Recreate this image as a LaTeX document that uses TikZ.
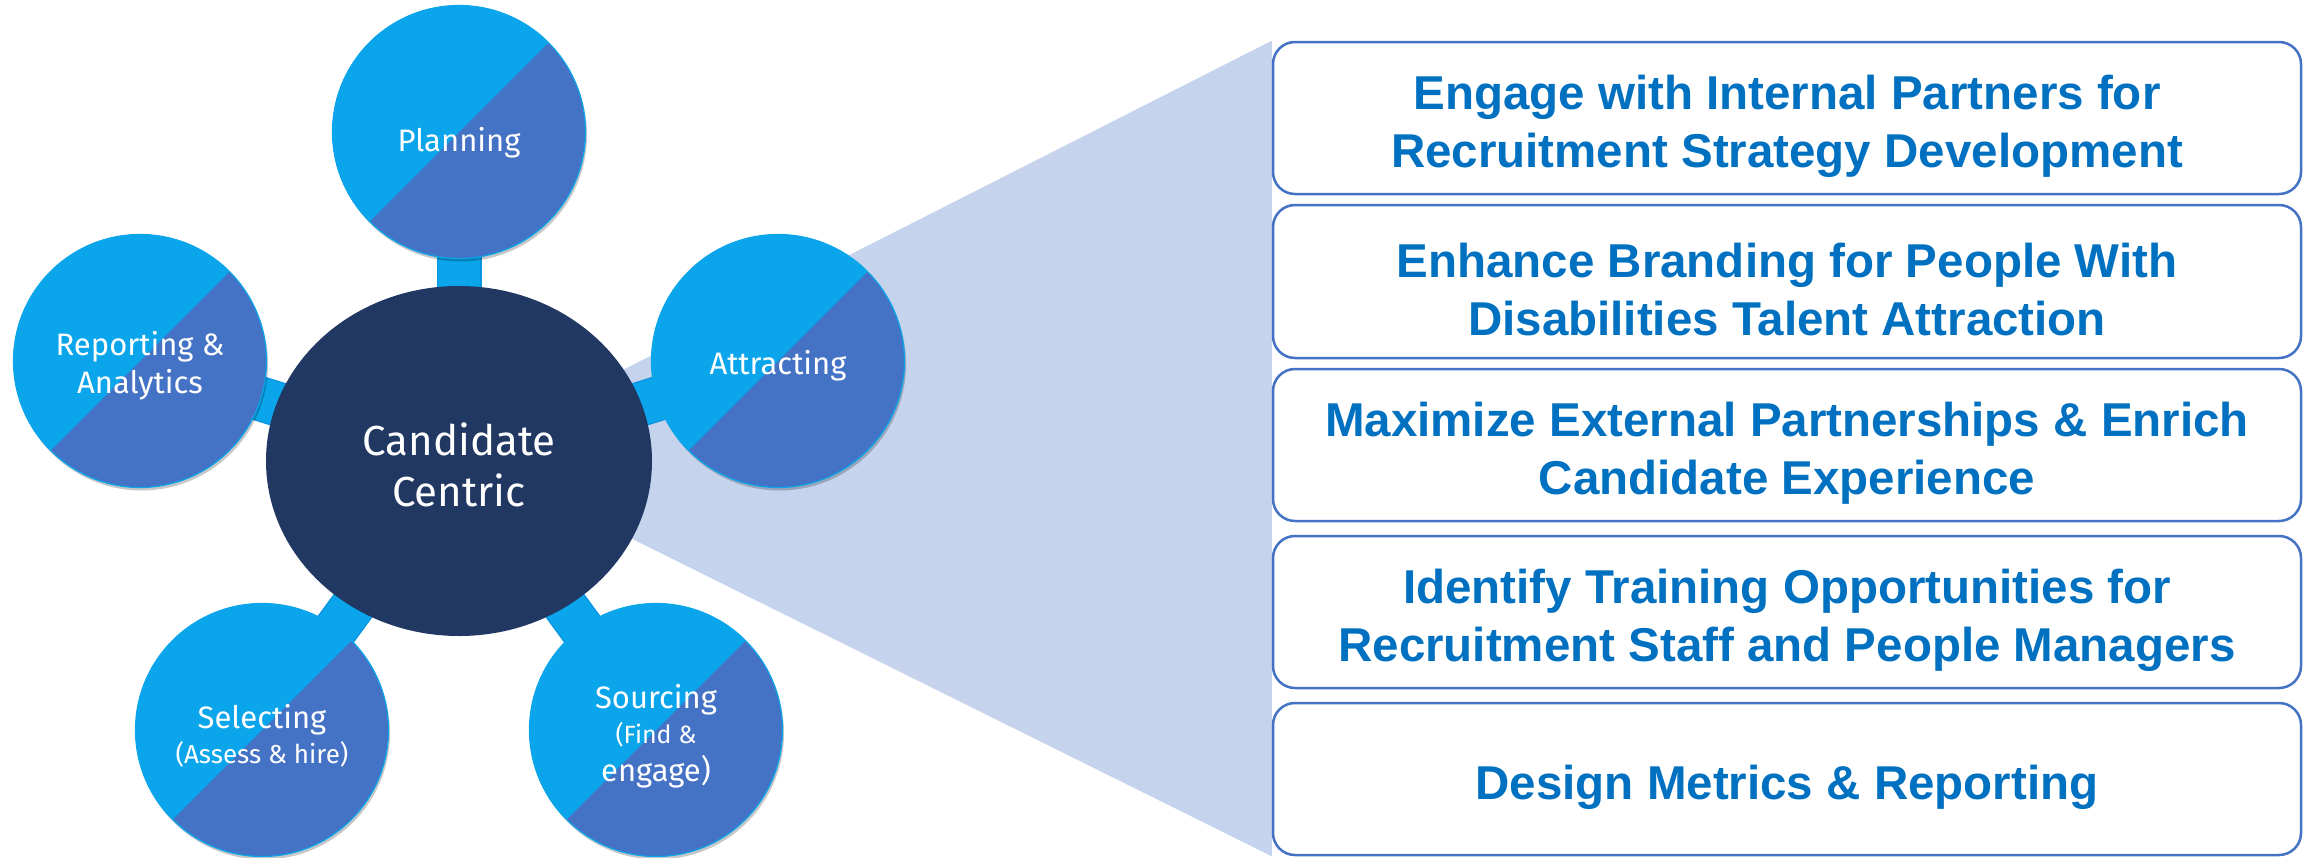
\documentclass[tikz,border=0pt]{standalone}
\usepackage{fontspec}
\setmainfont{Liberation Sans}
\newfontfamily\circlefont{Fira Sans}
\usetikzlibrary{shapes.geometric,shadows}

\definecolor{cyanfill}{HTML}{0AA5EB}
\definecolor{cyanedge}{HTML}{0A94E2}
\definecolor{bluefill}{HTML}{4472C4}
\definecolor{navy}{HTML}{213863}
\definecolor{wedge}{HTML}{C5D3EC}
\definecolor{boxline}{HTML}{4472C4}
\definecolor{boxtext}{HTML}{0070C0}

\pgfdeclarelayer{back}
\pgfdeclarelayer{links}
\pgfsetlayers{back,links,main}

% invisible strut that lowers a node's text block
\newcommand\lowerby[1]{\rule{0pt}{#1}}

\tikzset{
  stage/.style={circle, minimum size=253pt, inner sep=0pt,
    fill=bluefill, draw=cyanfill, line width=1.2pt,
    text=white, align=center,
    font=\circlefont\fontsize{31}{38}\selectfont,
    drop shadow={shadow xshift=1.5pt, shadow yshift=-3pt, opacity=0.22, fill=black},
    path picture={\fill[cyanfill] (path picture bounding box.north east)
      -- (path picture bounding box.south west)
      -- (path picture bounding box.north west) -- cycle;}},
  hub/.style={ellipse, minimum width=386pt, minimum height=350pt, inner sep=0pt,
    fill=navy, text=white, align=center,
    font=\circlefont\fontsize{42}{51}\selectfont},
  goal/.style={rectangle, rounded corners=22pt, draw=boxline, line width=2.5pt,
    fill=white, minimum width=1028pt, inner sep=0pt, text=boxtext, align=center,
    font=\bfseries\fontsize{47.5}{58}\selectfont},
  link/.style={line width=45pt, cyanedge},
  linkfill/.style={line width=42pt, cyanfill}
}

\begin{document}
\begin{tikzpicture}[x=1pt,y=-1pt]
\useasboundingbox (0,0) rectangle (2318,857);

% centre and the five stages around it
\node[hub] (cand) at (459,461) {\lowerby{40pt}Candidate\\Centric};
\node[stage] (plan) at (459,132) {\lowerby{46pt}Planning};
\node[stage] (report) at (140,361) {\lowerby{34pt}Reporting \&\\Analytics};
\node[stage] (attract) at (778,361) {\lowerby{34pt}Attracting};
\node[stage] (select) at (262,730) {\lowerby{36pt}Selecting\\[-3pt]\fontsize{26}{32}\selectfont(Assess \& hire)};
\node[stage] (source) at (656,730) {\lowerby{36pt}Sourcing\\[-3pt]\fontsize{25}{30}\selectfont(Find \&\\engage)};

% goal boxes
\node[goal, minimum height=152pt] (g1) at (1787,118)
  {\lowerby{51pt}Engage with Internal Partners for\\Recruitment Strategy Development};
\node[goal, minimum height=153pt] (g2) at (1787,281.5)
  {\lowerby{51pt}Enhance Branding for People With\\Disabilities Talent Attraction};
\node[goal, minimum height=152pt] (g3) at (1787,445)
  {\lowerby{51pt}Maximize External Partnerships \& Enrich\\Candidate Experience};
\node[goal, minimum height=152pt] (g4) at (1787,612)
  {\lowerby{51pt}Identify Training Opportunities for\\Recruitment Staff and People Managers};
\node[goal, minimum height=152pt] (g5) at (1787,779)
  {\lowerby{51pt}Design Metrics \& Reporting};

% fan from the centre to the box stack
\begin{pgfonlayer}{back}
  \fill[wedge] ([yshift=8pt]cand.center) -- (g1.north west) -- (g5.south west) -- cycle;
\end{pgfonlayer}

% spokes
\begin{pgfonlayer}{links}
  \foreach \n in {plan,report,attract,select,source}
    \draw[link] (cand.center) -- (\n.center);
  \foreach \n in {plan,report,attract,select,source}
    \draw[linkfill] (cand.center) -- (\n.center);
\end{pgfonlayer}
\end{tikzpicture}
\end{document}
